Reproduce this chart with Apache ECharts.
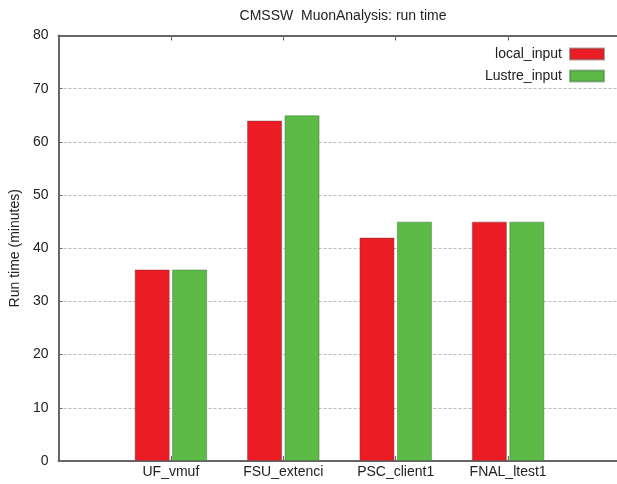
<!DOCTYPE html>
<html>
<head>
<meta charset="utf-8">
<script src="https://cdn.jsdelivr.net/npm/echarts@6/dist/echarts.min.js"></script>
<style>html,body{margin:0;padding:0;background:#fff;}#c{width:617px;height:484px;}</style>
</head>
<body>
<div id="c"></div>
<script>
const categories = ['', 'UF_vmuf', 'FSU_extenci', 'PSC_client1', 'FNAL_ltest1', ''];
const localInput = [null, 36, 64, 42, 45, null];
const lustreInput = [null, 36, 65, 45, 45, null];
const yTicks = [0, 10, 20, 30, 40, 50, 60, 70, 80];

const chart = echarts.init(document.getElementById('c'), null, {renderer: 'canvas'});
const font = 'Liberation Sans, Arial, sans-serif';
const axisColor = '#666';
chart.setOption({
  animation: false,
  backgroundColor: '#fff',
  title: {
    text: 'CMSSW  MuonAnalysis: run time',
    left: 338, top: 4, textAlign: 'center',
    textStyle: {fontFamily: font, fontSize: 14, fontWeight: 'normal', color: '#222'}
  },
  legend: {
    right: 12, top: 47, orient: 'vertical', align: 'right', padding: 0,
    itemWidth: 34, itemHeight: 11, itemGap: 8,
    icon: 'rect',
    textStyle: {fontFamily: font, fontSize: 14, color: '#222', padding: [0, 3, 0, 0]},
    data: ['local_input', 'Lustre_input']
  },
  grid: {left: 58.5, right: -3.5, top: 35.5, bottom: 23, outerBoundsMode: 'none', containLabel: false},
  xAxis: [{
    type: 'category', data: categories, boundaryGap: false,
    axisLine: {lineStyle: {color: axisColor, width: 2}},
    axisTick: {inside: true, length: 5, lineStyle: {color: axisColor}},
    axisLabel: {fontFamily: font, fontSize: 14, color: '#222', margin: 4,
      formatter: v => v}
  }, {
    type: 'category', data: categories, boundaryGap: false, position: 'top',
    axisLine: {show: true, lineStyle: {color: axisColor, width: 2}},
    axisTick: {inside: true, length: 5, lineStyle: {color: axisColor}},
    axisLabel: {show: false}
  }],
  yAxis: {
    type: 'value', min: yTicks[0], max: yTicks[yTicks.length - 1], interval: 10,
    name: 'Run time (minutes)', nameLocation: 'middle', nameGap: 36,
    nameTextStyle: {fontFamily: font, fontSize: 14, color: '#222'},
    axisLine: {show: true, lineStyle: {color: axisColor, width: 2}},
    axisTick: {show: true, inside: true, length: 4, lineStyle: {color: axisColor}},
    axisLabel: {fontFamily: font, fontSize: 14, color: '#222', margin: 10},
    splitLine: {show: true, lineStyle: {color: '#bbb', type: [3, 2], width: 1}}
  },
  series: [{
    name: 'local_input', type: 'bar', data: localInput,
    barWidth: 35, barGap: '7%',
    itemStyle: {color: '#ec1c24', borderColor: 'rgba(120,60,60,0.5)', borderWidth: 1}
  }, {
    name: 'Lustre_input', type: 'bar', data: lustreInput,
    barWidth: 35,
    itemStyle: {color: '#5dba47', borderColor: 'rgba(60,120,60,0.5)', borderWidth: 1}
  }]
});
</script>
</body>
</html>
